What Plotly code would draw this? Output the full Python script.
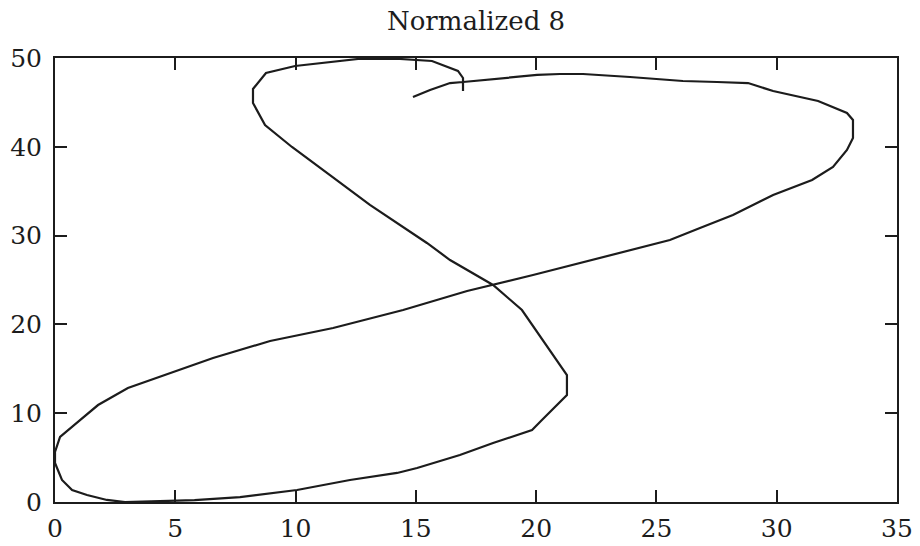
import plotly.graph_objects as go

x_vals = [16.96, 16.96, 16.75, 15.67, 14.34, 12.60, 9.98, 8.77, 8.23, 8.23,
          8.73, 9.85, 11.43, 13.09, 15.46, 16.42, 18.21, 19.41, 21.28, 21.28,
          20.24, 19.83, 18.21, 16.83, 15.05, 14.22, 12.26, 10.06, 7.69, 5.80,
          2.91, 2.16, 1.33, 0.71, 0.29, 0.0, 0.0, 0.21, 1.04, 1.79,
          3.03, 4.90, 6.57, 8.94, 11.56, 14.47, 17.13, 19.87, 22.36, 25.56,
          26.81, 28.18, 29.85, 31.47, 32.34, 32.92, 33.17, 33.17, 32.92, 31.72,
          29.85, 28.81, 27.52, 26.10, 23.90, 21.95, 20.99, 20.04, 16.96, 16.42,
          15.59, 14.88]
y_vals = [46.28, 47.75, 48.54, 49.66, 49.89, 49.89, 49.10, 48.31, 46.51, 44.93,
          42.45, 39.98, 36.82, 33.45, 29.17, 27.25, 24.44, 21.62, 14.30, 12.05,
          9.23, 8.11, 6.64, 5.29, 3.83, 3.27, 2.48, 1.35, 0.56, 0.20,
          0.0, 0.23, 0.79, 1.35, 2.48, 4.39, 5.63, 7.32, 9.23, 10.92,
          12.84, 14.64, 16.22, 18.13, 19.59, 21.62, 23.76, 25.56, 27.25, 29.50,
          30.86, 32.32, 34.57, 36.26, 37.73, 39.64, 40.99, 43.02, 43.81, 45.16,
          46.28, 47.18, 47.30, 47.41, 47.86, 48.20, 48.20, 48.09, 47.30, 47.18,
          46.40, 45.61]

title_text = "Normalized 8"
x_ticks = [0, 5, 10, 15, 20, 25, 30, 35]
y_ticks = [0, 10, 20, 30, 40, 50]

FONT = "DejaVu Serif"
INK = "#1c1c1c"

fig = go.Figure()
fig.add_trace(go.Scatter(x=x_vals, y=y_vals, mode="lines",
                         line=dict(color=INK, width=2.2), showlegend=False,
                         hoverinfo="skip"))

axis_common = dict(showgrid=False, zeroline=False, showline=True, linecolor=INK,
                   linewidth=2, mirror="allticks", ticks="inside", ticklen=12,
                   tickwidth=2, tickcolor=INK, automargin=False,
                   tickfont=dict(family=FONT, size=25, color=INK))

fig.update_layout(
    width=920, height=546,
    margin=dict(l=55, r=23, t=58, b=44),
    paper_bgcolor="white", plot_bgcolor="white",
    title=dict(text=title_text, xref="paper", x=0.5, xanchor="center",
               y=0.962, yanchor="middle",
               font=dict(family=FONT, size=26, color=INK)),
    xaxis=dict(range=[0, 35], tickvals=x_ticks, ticklabelstandoff=3, **axis_common),
    yaxis=dict(range=[0, 50], tickvals=y_ticks, ticklabelstandoff=6, **axis_common),
)

fig.write_html("out.html")
